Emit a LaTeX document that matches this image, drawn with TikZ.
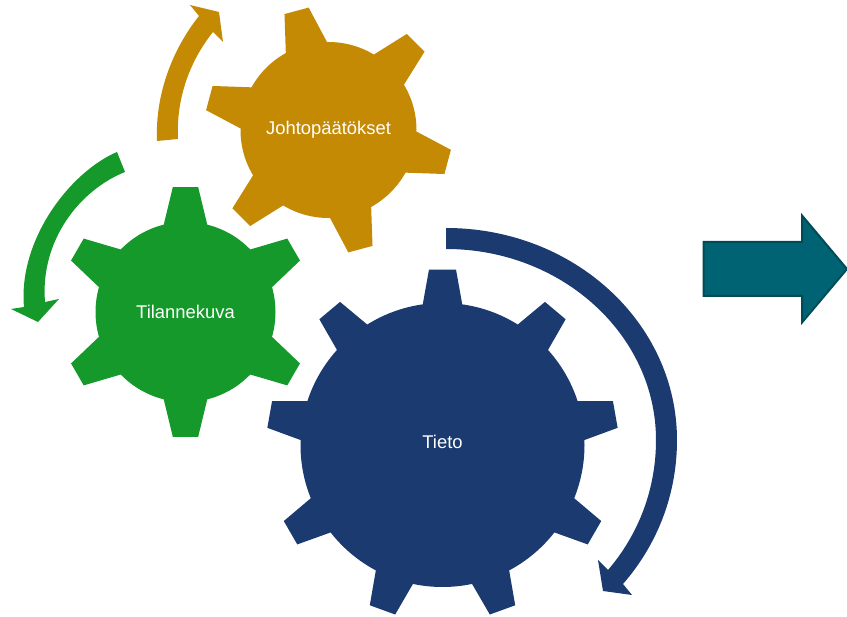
\documentclass[tikz,border=0pt]{standalone}
\usepackage{fontspec}
\setmainfont{Liberation Sans}
\definecolor{goldc}{HTML}{C48A04}
\definecolor{greenc}{HTML}{14992A}
\definecolor{bluec}{HTML}{1B3A70}
\definecolor{tealc}{HTML}{006373}
\definecolor{tealdark}{HTML}{004B58}
\newcommand{\gearshape}[9]{%
% colour, cx, cy, root, tip, teeth, start, tip half, base half
\fill[#1] (#2,#3) circle[radius=#4];
\pgfmathsetmacro{\gstep}{360/#6}
\pgfmathtruncatemacro{\glast}{#6-1}
\foreach \gi in {0,...,\glast}{
 \pgfmathsetmacro{\ga}{#7+\gi*\gstep}
 \fill[#1] (#2,#3)
  -- ({#2+#4*cos(\ga+#9)},{#3-#4*sin(\ga+#9)})
  -- ({#2+#5*cos(\ga+#8)},{#3-#5*sin(\ga+#8)})
  -- ({#2+#5*cos(\ga-#8)},{#3-#5*sin(\ga-#8)})
  -- ({#2+#4*cos(\ga-#9)},{#3-#4*sin(\ga-#9)}) -- cycle;
}}
\tikzset{gearlabel/.style={text=white,inner sep=0pt,font=\fontsize{18.4}{22}\selectfont}}
\begin{document}
\begin{tikzpicture}[x=1pt,y=-1pt]
\useasboundingbox (0,0) rectangle (847,617);
\gearshape{goldc}{328.5}{130}{88}{124}{6}{105}{5.8}{14}
\gearshape{greenc}{185.5}{312}{90}{125.5}{6}{30}{5.8}{14}
\gearshape{bluec}{442.5}{445}{142}{176}{9}{90}{4.4}{8}
% curved arrows
\fill[goldc] (157,141) .. controls (155,95) and (172,50) .. (199,16)
 -- (190,5) -- (219,12) -- (223,42) -- (213,32)
 .. controls (189,62) and (176,100) .. (178,139) -- cycle;
\fill[greenc] (117,152) .. controls (70,172) and (18,240) .. (24,307)
 -- (11,309) -- (38,322) -- (59,299) -- (45,302)
 .. controls (40,240) and (80,190) .. (125,172) -- cycle;
\fill[bluec] (446,228) .. controls (574,228) and (677,323) .. (677,440)
 .. controls (677,495) and (657,545) .. (623,584)
 -- (632,595) -- (603,591) -- (598,560) -- (608,570)
 .. controls (638,535) and (656,490) .. (656,440)
 .. controls (656,335) and (562,249) .. (446,249) -- cycle;
% block arrow
\draw[fill=tealc,draw=tealdark,line width=2pt,miter limit=10]
 (703.5,242) -- (802,242) -- (802,215.5) -- (847,269) -- (802,322.5) -- (802,296) -- (703.5,296) -- cycle;
% labels
\node[gearlabel] (johto) at (328.5,130) {Johtopäätökset};
\node[gearlabel] (tilanne) at (185.5,312) {Tilannekuva};
\node[gearlabel] (tieto) at (442.5,442) {Tieto};
\end{tikzpicture}
\end{document}
